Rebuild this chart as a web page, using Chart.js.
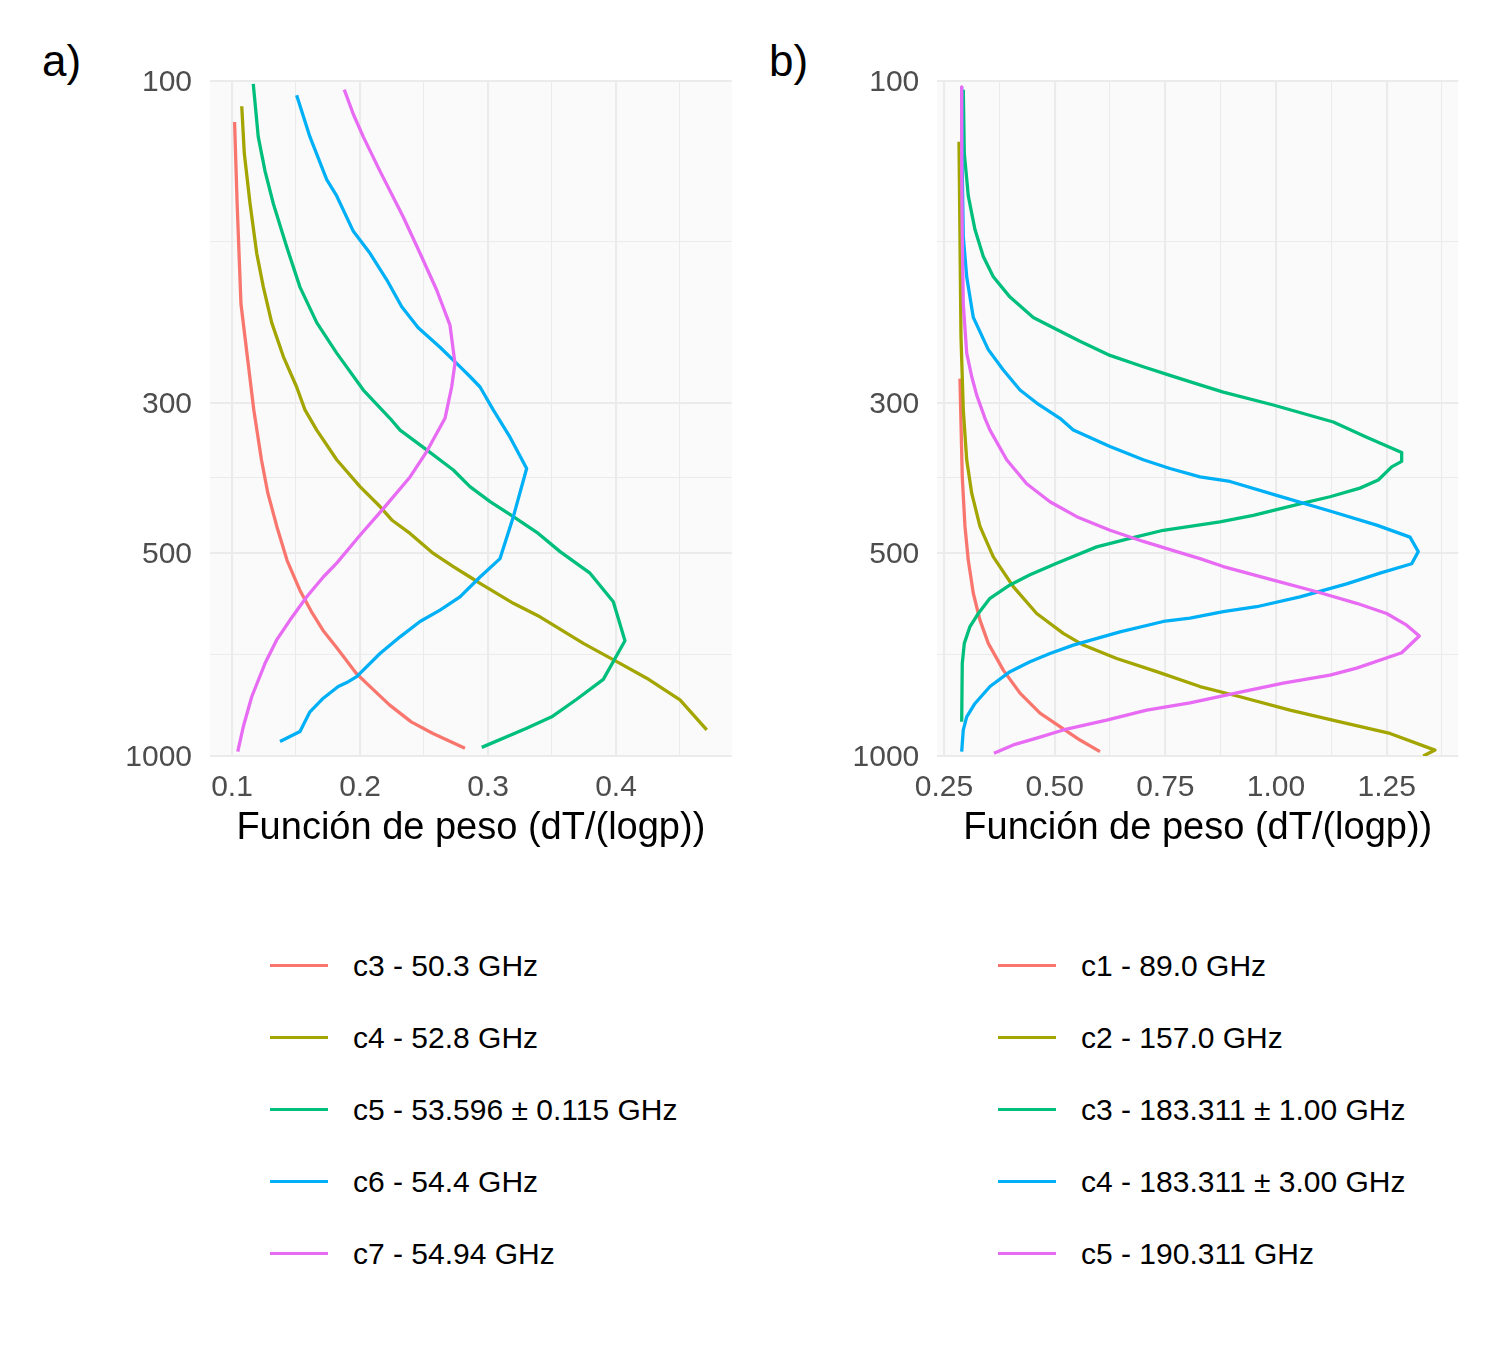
<!DOCTYPE html>
<html>
<head>
<meta charset="utf-8">
<script src="https://cdn.jsdelivr.net/npm/chart.js@4.4.0/dist/chart.umd.min.js"></script>
<style>
  body { margin: 0; background: #fff; width: 1500px; height: 1350px; position: relative;
         font-family: 'Liberation Sans', Arial, sans-serif; }
  canvas { position: absolute; top: 0; }
  .tag { position: absolute; top: 39px; font-size: 44px; line-height: 44px; color: #000; }
  .row { position: absolute; height: 30px; font-size: 30px; line-height: 30px; color: #000; white-space: nowrap; }
  .swatch { position: absolute; height: 3px; width: 58px; }
</style>
</head>
<body>
<div class="tag" style="left:42px">a)</div>
<div class="tag" style="left:769px">b)</div>
<canvas id="chartA" width="745" height="860" style="left:0px"></canvas>
<canvas id="chartB" width="745" height="860" style="left:750px"></canvas>
<div id="legendA"></div>
<div id="legendB"></div>
<script>
// Weighting function value vs pressure (hPa): [w, p]
// a) AMSU-A style channels
const aC3 = [[0.102,115],[0.104,152],[0.107,214],[0.117,307],[0.123,364],[0.128,408],[0.135,457],[0.143,513],[0.153,568],[0.162,611],[0.171,651],[0.182,692],[0.197,754],[0.205,780],[0.223,840],[0.240,890],[0.257,926],[0.282,974]];
const aC4 = [[0.1076,109],[0.1096,128],[0.1141,152],[0.1193,180],[0.1245,202],[0.131,228],[0.1401,256],[0.1505,284],[0.157,307],[0.1662,329],[0.1818,364],[0.2,399],[0.2156,427],[0.2248,447],[0.2391,468],[0.2573,501],[0.2729,524],[0.2859,543],[0.2938,555],[0.3198,594],[0.3406,622],[0.3745,681],[0.4031,729],[0.424,767],[0.45,826],[0.4709,915]];
const aC5 = [[0.1166,101],[0.1205,121],[0.1258,136],[0.1323,152],[0.1427,176],[0.1531,202],[0.1662,228],[0.1818,253],[0.2026,287],[0.2234,316],[0.2313,329],[0.2521,352],[0.2729,377],[0.2859,399],[0.3016,420],[0.3198,442],[0.3393,468],[0.3563,498],[0.3797,536],[0.3979,591],[0.407,675],[0.3901,770],[0.3693,824],[0.3498,875],[0.3302,910],[0.2951,971]];
const aC6 = [[0.1505,105],[0.1609,121],[0.174,140],[0.1818,148],[0.1948,167],[0.2078,180],[0.2209,197],[0.2326,216],[0.2455,232],[0.2625,248],[0.2755,262],[0.2859,274],[0.2938,284],[0.3041,307],[0.3172,337],[0.3302,375],[0.3198,442],[0.3094,510],[0.2938,543],[0.2781,581],[0.2625,608],[0.2469,632],[0.2313,666],[0.2156,705],[0.1974,763],[0.1909,776],[0.183,789],[0.1713,821],[0.1609,860],[0.1531,920],[0.1375,952]];
const aC7 = [[0.1877,103],[0.1948,112],[0.2026,121],[0.2156,136],[0.2338,159],[0.2469,180],[0.2599,204],[0.2703,230],[0.2742,262],[0.2716,284],[0.2664,316],[0.2521,354],[0.2391,386],[0.2182,430],[0.2,471],[0.1818,518],[0.1713,543],[0.1584,581],[0.1453,629],[0.1349,673],[0.1258,729],[0.1154,817],[0.1088,905],[0.1045,985]];

// b) MHS style channels
const bC1 = [[0.2861,276],[0.2877,307],[0.2913,386],[0.2974,457],[0.3049,513],[0.3162,574],[0.3313,629],[0.3501,681],[0.384,746],[0.4217,807],[0.4669,864],[0.512,905],[0.5572,947],[0.6024,985]];
const bC2 = [[0.2839,123],[0.2861,170],[0.2884,239],[0.2936,307],[0.3013,364],[0.3126,408],[0.3313,457],[0.3614,507],[0.4065,561],[0.4594,615],[0.5195,658],[0.5647,685],[0.6401,717],[0.7305,750],[0.8283,789],[0.9187,817],[1.0316,855],[1.1446,890],[1.2575,926],[1.3591,980],[1.3327,1000]];
const bC3 = [[0.2936,103],[0.2959,128],[0.3049,148],[0.32,166],[0.3388,182],[0.3614,195],[0.3991,209],[0.4517,224],[0.4969,232],[0.5572,243],[0.625,255],[0.7002,265],[0.7605,273],[0.8283,282],[0.8809,289],[0.9938,302],[1.1294,320],[1.2048,337],[1.2839,355],[1.2839,366],[1.2613,373],[1.231,390],[1.1897,401],[1.1219,413],[1.0541,423],[0.9487,440],[0.8734,450],[0.7454,463],[0.6702,476],[0.5949,490],[0.5046,518],[0.4443,539],[0.3991,558],[0.3539,584],[0.3275,615],[0.3087,643],[0.2959,681],[0.2913,729],[0.29,890]];
const bC4 = [[0.29,102],[0.2913,136],[0.2936,170],[0.3013,195],[0.3162,224],[0.3501,250],[0.384,268],[0.4217,287],[0.4594,300],[0.512,316],[0.5421,329],[0.625,348],[0.7002,364],[0.7605,375],[0.8283,386],[0.896,392],[1.0015,411],[1.1294,435],[1.2274,455],[1.3027,474],[1.3214,498],[1.3065,519],[1.2349,536],[1.1596,556],[1.0541,581],[0.9563,601],[0.8809,611],[0.8057,625],[0.7454,632],[0.6476,655],[0.5421,685],[0.4894,705],[0.4443,725],[0.3991,750],[0.3539,789],[0.32,836],[0.3013,875],[0.2936,915],[0.29,985]];
const bC5 = [[0.29,102],[0.29,136],[0.2913,170],[0.2936,214],[0.3013,253],[0.3126,274],[0.3239,292],[0.3426,316],[0.3539,329],[0.3916,364],[0.4368,395],[0.4894,420],[0.5498,442],[0.625,463],[0.7002,481],[0.7756,498],[0.8283,510],[0.8809,524],[0.9938,549],[1.0919,571],[1.1822,594],[1.25,615],[1.2952,640],[1.3237,664],[1.2839,703],[1.1822,741],[1.1219,759],[1.0164,780],[0.9112,806],[0.8057,834],[0.7079,855],[0.6175,885],[0.5195,915],[0.4594,941],[0.4065,963],[0.3629,991]];

const labelsA = ['c3 - 50.3 GHz', 'c4 - 52.8 GHz', 'c5 - 53.596 ± 0.115 GHz', 'c6 - 54.4 GHz', 'c7 - 54.94 GHz'];
const labelsB = ['c1 - 89.0 GHz', 'c2 - 157.0 GHz', 'c3 - 183.311 ± 1.00 GHz', 'c4 - 183.311 ± 3.00 GHz', 'c5 - 190.311 GHz'];
const colors = ['#F8766D', '#A3A500', '#00BF7D', '#00B0F6', '#E76BF3'];

// axis ticks
const xTicksA = [0.1, 0.2, 0.3, 0.4];
const xMinorA = [0.15, 0.25, 0.35, 0.45];
const xTicksB = [0.25, 0.5, 0.75, 1.0, 1.25];
const xMinorB = [0.375, 0.625, 0.875, 1.125, 1.375];
const pTicks = [100, 300, 500, 1000];
const pMinor = [173.2, 387.3, 707.1];

const fontFamily = "'Liberation Sans', Arial, sans-serif";
Chart.defaults.font.family = fontFamily;

// light grey panel behind the grid
const panelBg = {
  id: 'panelBg',
  beforeDraw(chart) {
    const {ctx, chartArea: a} = chart;
    ctx.save();
    ctx.fillStyle = '#FAFAFA';
    ctx.fillRect(a.left, a.top, a.right - a.left, a.bottom - a.top);
    ctx.restore();
  }
};

function makePanel(canvasId, series, labels, opts) {
  const datasets = series.map((s, i) => ({
    label: labels[i],
    data: s.map(d => ({x: d[0], y: d[1]})),
    borderColor: colors[i],
    backgroundColor: colors[i],
    borderWidth: 3.3,
    borderJoinStyle: 'round',
    pointRadius: 0,
    tension: 0,
    fill: false,
    order: series.length - i
  }));

  const gridWidth = (majors) => (ctx) => (ctx.tick && majors.includes(ctx.tick.value)) ? 2.1 : 1.05;

  return new Chart(document.getElementById(canvasId), {
    type: 'line',
    data: {datasets: datasets},
    options: {
      responsive: false,
      animation: false,
      layout: {padding: {left: 0, top: 81, right: opts.padRight, bottom: 0}},
      plugins: {legend: {display: false}, tooltip: {enabled: false}},
      scales: {
        x: {
          type: 'linear',
          bounds: 'data',
          min: opts.xMin,
          max: opts.xMax,
          afterBuildTicks: (s) => {
            s.ticks = opts.majors.concat(opts.minors).sort((a, b) => a - b).map(v => ({value: v}));
          },
          afterFit: (s) => { s.height = 104; },
          ticks: {
            autoSkip: false,
            maxRotation: 0,
            padding: 14,
            color: '#4D4D4D',
            font: {size: 30, lineHeight: 1.2},
            callback: (v) => opts.majors.includes(v) ? v.toFixed(opts.decimals) : ''
          },
          grid: {drawTicks: false, color: '#EBEBEB', lineWidth: gridWidth(opts.majors)},
          border: {display: false},
          title: {
            display: true,
            text: 'Función de peso (dT/(logp))',
            color: '#000',
            font: {size: 38, lineHeight: 1.2},
            padding: {top: 0, bottom: 9}
          }
        },
        y: {
          type: 'logarithmic',
          bounds: 'data',
          reverse: true,
          min: 100,
          max: 1000,
          afterBuildTicks: (s) => {
            s.ticks = pTicks.concat(pMinor).sort((a, b) => a - b).map(v => ({value: v}));
          },
          afterFit: (s) => { s.width = opts.yWidth; },
          ticks: {
            autoSkip: false,
            padding: 18,
            labelOffset: 2,
            color: '#4D4D4D',
            font: {size: 30},
            callback: (v) => pTicks.includes(v) ? String(v) : ''
          },
          grid: {drawTicks: false, color: '#EBEBEB', lineWidth: gridWidth(pTicks)},
          border: {display: false}
        }
      }
    },
    plugins: [panelBg]
  });
}

function buildLegend(chart, elId, swatchLeft, textLeft) {
  const box = document.getElementById(elId);
  const rowCentres = [965, 1037, 1109, 1181, 1253];
  chart.data.datasets.forEach((ds, i) => {
    let sw = document.createElement('div');
    sw.className = 'swatch';
    sw.style.left = swatchLeft + 'px';
    sw.style.top = (rowCentres[i] - 1.5) + 'px';
    sw.style.background = ds.borderColor;
    box.appendChild(sw);
    let row = document.createElement('div');
    row.className = 'row';
    row.style.left = textLeft + 'px';
    row.style.top = (rowCentres[i] - 14.5) + 'px';
    row.textContent = ds.label;
    box.appendChild(row);
  });
}

let chartA = makePanel('chartA', [aC3, aC4, aC5, aC6, aC7], labelsA,
  {xMin: 0.0828, xMax: 0.4904, majors: xTicksA, minors: xMinorA, decimals: 1, yWidth: 210, padRight: 13.3});
let chartB = makePanel('chartB', [bC1, bC2, bC3, bC4, bC5], labelsB,
  {xMin: 0.2349, xMax: 1.4118, majors: xTicksB, minors: xMinorB, decimals: 2, yWidth: 187.3, padRight: 36.7});

buildLegend(chartA, 'legendA', 270, 353);
buildLegend(chartB, 'legendB', 998, 1081);
</script>
</body>
</html>
